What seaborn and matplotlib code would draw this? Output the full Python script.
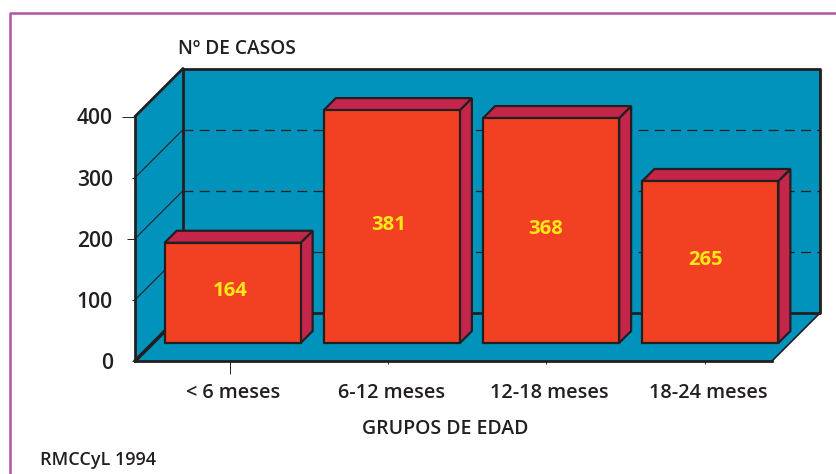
import numpy as np
import pandas as pd
import seaborn as sns
import matplotlib.pyplot as plt
from matplotlib.lines import Line2D
from matplotlib.transforms import Affine2D, ScaledTranslation

grupos = ['< 6 meses', '6-12 meses', '12-18 meses', '18-24 meses']
casos = [164, 381, 368, 265]
yticks = [0, 100, 200, 300, 400]
grid_vals = [100, 200, 300]

TEAL = '#0193BB'
RED = '#F24122'
CRIMSON = '#C4264B'
INK = '#231F20'
PURPLE = '#AE55A3'
YELLOW = '#FFE81A'

W, H = 837, 474
DEPTH = 48      # depth of the floor in pixels
BAR_POS = 18    # how far back the bars stand
BAR_DEPTH = 12

sns.set_theme(style='white')
plt.rcParams['font.family'] = ['Open Sans', 'DejaVu Sans']
plt.rcParams['font.weight'] = 'semibold'

fig = plt.figure(figsize=(W / 100, H / 100), dpi=100)
ax = fig.add_axes([135 / W, (H - 361) / H, 637 / W, 244.5 / H])
ax.patch.set_alpha(0)

df = pd.DataFrame({'grupo': grupos, 'casos': casos})
sns.barplot(data=df, x='grupo', y='casos', color=RED, saturation=1, width=0.854,
            edgecolor=INK, linewidth=1.6, ax=ax, zorder=5)
bars = list(ax.patches)
ax.set_xlim(-0.5, 3.5)
ax.set_ylim(0, 400)

# pixels -> data units for the fake depth
dx = DEPTH * 4 / 637
dy = DEPTH * 400 / 244.5
bx = BAR_DEPTH * 4 / 637
by = BAR_DEPTH * 400 / 244.5

x0, x1 = ax.get_xlim()
ymax = yticks[-1]
wall = dict(color=TEAL, lw=0, clip_on=False, zorder=1)
ax.fill([x0 + dx, x1 + dx, x1 + dx, x0 + dx], [dy, dy, ymax + dy, ymax + dy], **wall)
ax.fill([x0, x0 + dx, x0 + dx, x0], [0, dy, ymax + dy, ymax], **wall)
ax.fill([x0, x1, x1 + dx, x0 + dx], [0, 0, dy, dy], **wall)

line = dict(color=INK, clip_on=False, zorder=2, solid_capstyle='round')
for v in grid_vals:
    ax.plot([x0, x0 + dx], [v, v + dy], lw=0.8, **line)
    ax.plot([x0 + dx, x1 + dx], [v + dy, v + dy], lw=0.9, color=INK, clip_on=False,
            zorder=2, dashes=(8, 5))
ax.plot([x0 + dx, x1 + dx, x1 + dx, x0 + dx, x0 + dx],
        [ymax + dy, ymax + dy, dy, dy, ymax + dy], lw=2, **line)
ax.plot([x0, x0 + dx], [ymax, ymax + dy], lw=2, **line)
ax.plot([x0, x0 + dx], [0, dy], lw=2.6, **line)
ax.plot([x1, x1 + dx], [0, dy], lw=1.2, **line)

# bars stand a bit behind the front edge of the floor
shift = Affine2D().translate(BAR_POS, BAR_POS)
bar_tr = ax.transData + shift
for bar in bars:
    bar.set_transform(bar_tr)
    bar.set_clip_on(False)
    xa, xb, top = bar.get_x(), bar.get_x() + bar.get_width(), bar.get_height()
    ax.fill([xb, xb + bx, xb + bx, xb], [0, by, top + by, top], color=CRIMSON, ec=INK,
            lw=1.6, transform=bar_tr, clip_on=False, zorder=4)
    ax.fill([xa, xb, xb + bx, xa + bx], [top, top, top + by, top + by], color=CRIMSON,
            ec=INK, lw=1.6, transform=bar_tr, clip_on=False, zorder=4)

tick_pos = [0.095, 1.09, 2.08, 3.08]
for pos, val in zip(tick_pos, casos):
    ax.text(pos, val / 2, str(val), color=YELLOW, fontsize=14.6, weight='bold', ha='center',
            va='center', transform=ax.transData + Affine2D().translate(0, BAR_POS + 2), zorder=6)

ax.set_xticks(tick_pos, grupos)
ax.set_yticks(yticks)
ax.tick_params(axis='x', bottom=True, length=9, width=0.7, color=INK, pad=7,
               labelsize=14.3, labelcolor=INK)
ax.tick_params(axis='y', left=True, length=9.4, width=0.7, color=INK, pad=6.5,
               labelsize=15.2, labelcolor=INK)
for i, t in enumerate(ax.xaxis.get_major_ticks()):
    t.tick1line.set_markersize(9 if i == 0 else 2)
    t.label1.set_transform(t.label1.get_transform() + ScaledTranslation(3 / 100, 0, fig.dpi_scale_trans))
for v, t in zip(yticks, ax.yaxis.get_major_ticks()):
    t.tick1line.set_markersize({400: 9.4, 200: 6}.get(v, 2))

ax.set_xlabel('GRUPOS DE EDAD', fontsize=14, color=INK, weight='semibold')
ax.xaxis.set_label_coords((445.5 - 135) / 637, (361 - 429) / 244.5)
ax.xaxis.label.set_va('center')
ax.set_ylabel('')

sns.despine(ax=ax, top=True, right=True)
for side in ['left', 'bottom']:
    ax.spines[side].set_color(INK)
    ax.spines[side].set_linewidth(2)
    ax.spines[side].set_zorder(7)

fig.text(178 / W, 1 - 49 / H, 'Nº DE CASOS', fontsize=13.8, color=INK, va='center')
fig.text(40 / W, 1 - 460 / H, 'RMCCyL 1994', fontsize=13, color=INK, va='center')

# magazine frame, open on the right
fig.add_artist(Line2D([10.5 / W, 10.5 / W, 1], [0, 1 - 12.7 / H, 1 - 12.7 / H], color=PURPLE, lw=1.8))

fig.savefig('out.png', dpi=100)
